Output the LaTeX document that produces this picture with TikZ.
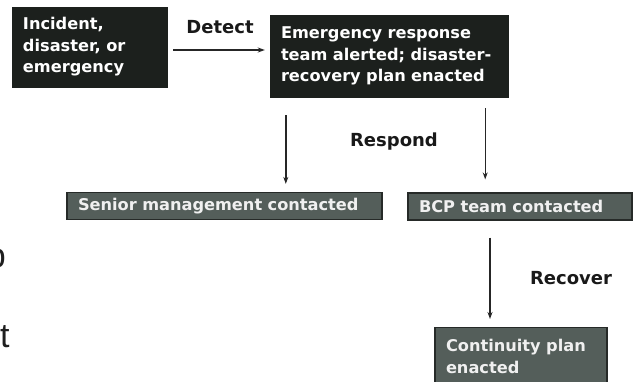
\documentclass[tikz,border=0pt]{standalone}
\usepackage{fontspec}
\usetikzlibrary{arrows.meta}
\newfontfamily\flowfont{DejaVu Sans}
\newfontfamily\pagefont{Liberation Sans}
\definecolor{boxdark}{RGB}{28,32,29}
\definecolor{boxgrey}{RGB}{84,94,90}
\definecolor{boxedge}{RGB}{38,42,40}

\begin{document}
\begin{tikzpicture}[x=1pt, y=1pt, every node/.style={font=\flowfont\bfseries\fontsize{16.2}{21.5}\selectfont},
	darkbox/.style={fill=boxdark, draw=boxdark, text=white, align=left, inner xsep=11pt, inner ysep=3pt},
	greybox/.style={fill=boxgrey, draw=boxedge, line width=1.2pt, text=white!94!black, align=left, inner xsep=11pt, inner ysep=3pt, minimum height=27pt},
	lbl/.style={font=\flowfont\bfseries\fontsize{18}{22}\selectfont, text=black!90, inner sep=1pt},
	pagetxt/.style={font=\pagefont\fontsize{34}{40}\selectfont, text=black!88, inner sep=0pt},
	arr/.style={-{Stealth[length=7pt,width=5pt]}, line width=1.4pt, black!85}]
	\useasboundingbox (0,0) rectangle (634,-382);
	\clip (0,0) rectangle (634,-382);
	\node[darkbox, text width=133pt, minimum height=80pt] (inc) at (89.5,-47) {Incident,\\disaster, or\\emergency};
	\node[darkbox, text width=216pt, minimum height=82pt] (ert) at (389,-56) {Emergency response\\team alerted; disaster-\\recovery plan enacted};
	\node[greybox, text width=293pt] (sm) at (224.5,-206) {Senior management contacted};
	\node[greybox, text width=202pt] (bcp) at (520,-206.5) {BCP team contacted};
	\node[greybox, text width=150pt, anchor=north, inner ysep=12pt] (cpe) at (521,-327) {Continuity plan\\enacted};
	\foreach \n/\p/\t in {det/{220,-27}/Detect, rsp/{394,-142}/Respond, rcv/{571,-278}/Recover} {\node[lbl] (\n) at (\p) {\t};}
	\draw[arr] ([xshift=6pt,yshift=-3pt]inc.east) -- ([xshift=-5pt,yshift=-3pt]inc.east -| ert.west);
	\draw[arr] ([xshift=16pt,yshift=-18pt]ert.south west) -- ([xshift=16pt,yshift=8pt]ert.south west |- sm.north);
	\draw[arr] ([xshift=-23pt,yshift=-11pt]ert.south east) -- ([xshift=-23pt,yshift=13pt]ert.south east |- bcp.north);
	\draw[arr] ([xshift=-30pt,yshift=-17pt]bcp.south) -- ([xshift=-30pt,yshift=8pt]bcp.south |- cpe.north);
	\node[pagetxt, anchor=base east] (pg1) at (6,-267) {p};
	\node[pagetxt, anchor=base west] (pg2) at (0,-347) {t};
\end{tikzpicture}
\end{document}
